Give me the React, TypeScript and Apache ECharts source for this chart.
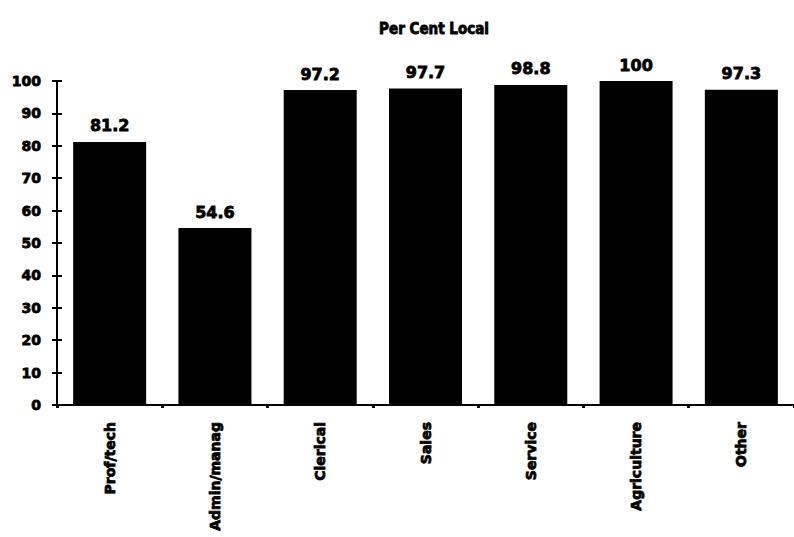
import React, { useEffect, useRef } from "react";
import * as echarts from "echarts";

// Occupational groups and share of local workers (%)
const categories: string[] = [
  "Prof/tech",
  "Admin/manag",
  "Clerical",
  "Sales",
  "Service",
  "Agriculture",
  "Other",
];
const perCentLocal: number[] = [81.2, 54.6, 97.2, 97.7, 98.8, 100, 97.3];

const yMin = 0;
const yMax = 100;
const yStep = 10;

const FONT = "'DejaVu Sans', 'Liberation Sans', sans-serif";

// a thin stroke in the fill colour gives the heavy, black-weight lettering
const heavy = { textBorderColor: "#000", textBorderWidth: 0.8 };

export default function App() {
  const ref = useRef<HTMLDivElement | null>(null);

  useEffect(() => {
    if (!ref.current) return;
    const chart = echarts.init(ref.current, undefined, { renderer: "svg" });
    chart.setOption({
      animation: false,
      backgroundColor: "#ffffff",
      title: {
        text: "Per Cent Local",
        left: 429,
        top: 16,
        textAlign: "center",
        textStyle: {
          fontFamily: "'DejaVu Sans Condensed', 'DejaVu Sans', sans-serif",
          fontWeight: "bold",
          fontSize: 15,
          color: "#000",
          ...heavy,
        },
      },
      grid: { left: 57, top: 81, width: 740, height: 324 },
      xAxis: {
        type: "category",
        data: categories,
        axisLine: { lineStyle: { color: "#000", width: 2 } },
        axisTick: {
          show: true,
          length: 3,
          lineStyle: { color: "#000", width: 3 },
        },
        axisLabel: {
          rotate: 90,
          margin: 17,
          color: "#000",
          fontFamily: FONT,
          fontWeight: "bold",
          fontSize: 14,
          interval: 0,
          ...heavy,
        },
      },
      yAxis: [
        {
          type: "value",
          min: yMin,
          max: yMax,
          interval: yStep,
          splitLine: { show: false },
          axisLine: { show: true, lineStyle: { color: "#000", width: 2 } },
          axisTick: {
            show: true,
            length: 5,
            lineStyle: { color: "#000", width: 2 },
          },
          axisLabel: {
            margin: 16,
            color: "#000",
            fontFamily: FONT,
            fontWeight: "bold",
            fontSize: 14,
            ...heavy,
          },
        },
        {
          // inner half of the cross-shaped ticks
          type: "value",
          position: "left",
          min: yMin,
          max: yMax,
          interval: yStep,
          splitLine: { show: false },
          axisLine: { show: false },
          axisTick: {
            show: true,
            inside: true,
            length: 5,
            lineStyle: { color: "#000", width: 2 },
          },
          axisLabel: { show: false },
        },
      ],
      series: [
        {
          type: "bar",
          data: perCentLocal,
          barWidth: 73,
          itemStyle: { color: "#000" },
          label: {
            show: true,
            position: "top",
            distance: 8,
            color: "#000",
            fontFamily: FONT,
            fontWeight: "bold",
            fontSize: 16,
            ...heavy,
          },
        },
      ],
    });
    return () => chart.dispose();
  }, []);

  return (
    <div
      ref={ref}
      style={{ position: "fixed", left: 0, top: 0, width: 794, height: 537 }}
    />
  );
}
